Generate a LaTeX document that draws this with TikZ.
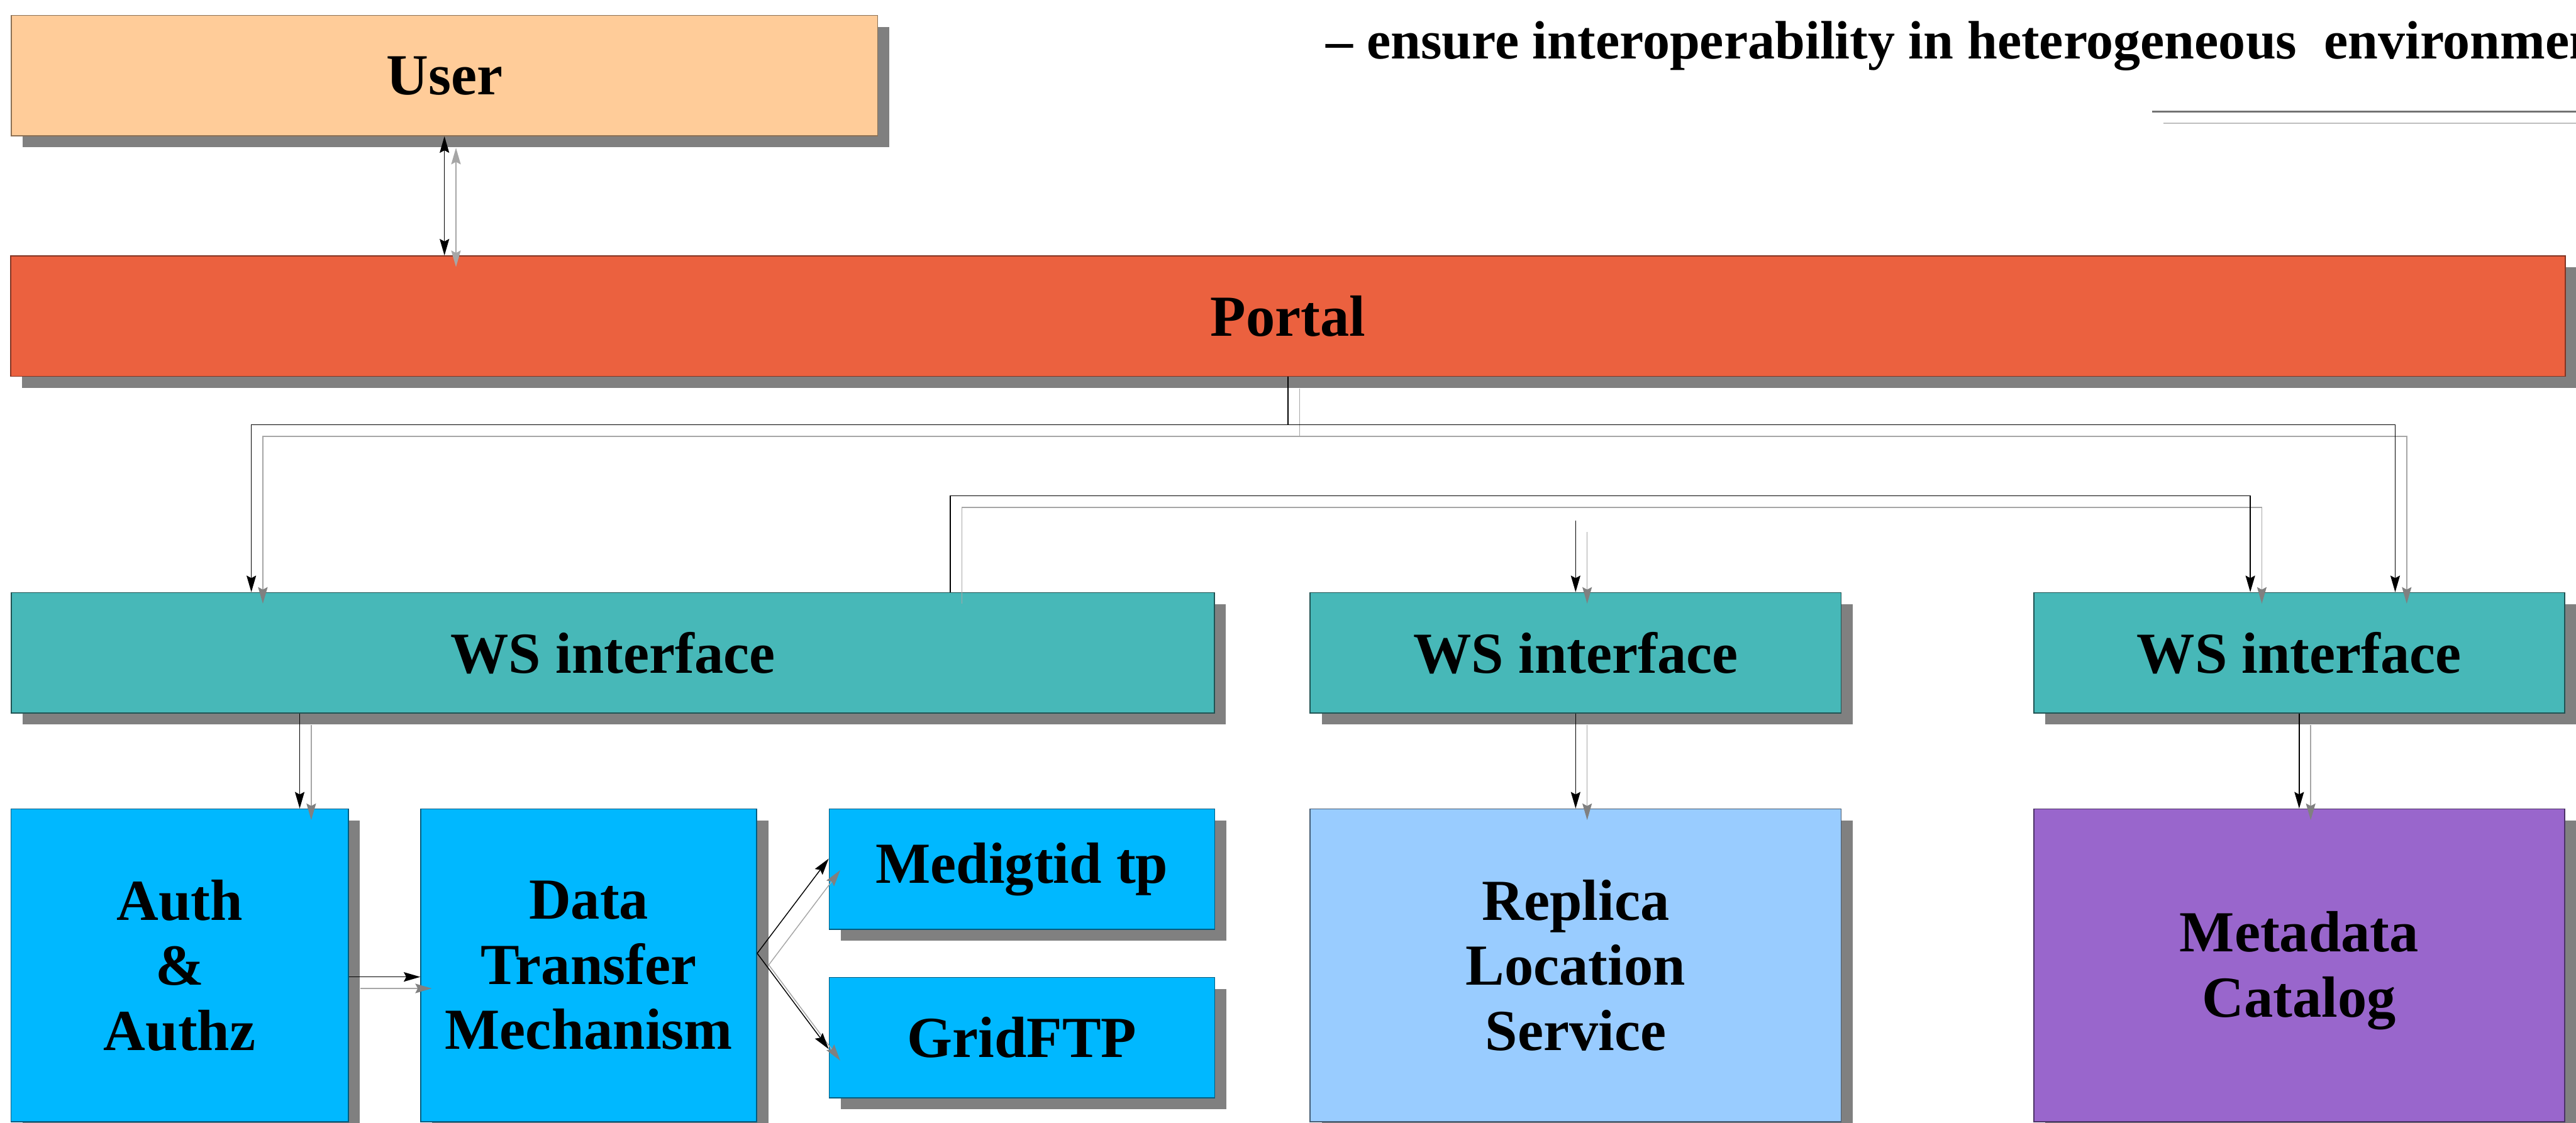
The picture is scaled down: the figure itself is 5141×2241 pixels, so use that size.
\documentclass[tikz,border=0pt]{standalone}
\usepackage{fontspec}
\setmainfont{Liberation Serif}
\usetikzlibrary{arrows.meta,shadows}
\definecolor{cuser}{HTML}{FFCC99}
\definecolor{cportal}{HTML}{EB613F}
\definecolor{cws}{HTML}{47B8B8}
\definecolor{cblue}{HTML}{00B8FF}
\definecolor{creplica}{HTML}{99CCFF}
\definecolor{cmeta}{HTML}{9966CC}
\newcommand\shconn[2]{\draw[conshadow,#1] #2; \draw[con,#1] #2;}
\begin{document}
\begin{tikzpicture}[x=0.01cm,y=-0.01cm,
  box/.style={draw=black!60, line width=0.02cm, inner sep=0pt, align=center,
    font=\fontsize{33}{37}\selectfont\bfseries,
    drop shadow={shadow xshift=0.23cm,shadow yshift=-0.23cm,fill=black!50,opacity=1}},
  con/.style={draw=black, line width=0.018cm, -{Stealth[length=0.33cm,width=0.19cm,inset=0.05cm]}},
  conshadow/.style={draw=black!35, line width=0.018cm, -{Stealth[length=0.33cm,width=0.19cm,inset=0.05cm,color=black!50]},
    transform canvas={shift={(0.23cm,-0.23cm)}}}]
\useasboundingbox (0,0) rectangle (5141,2241);
\clip (0,0) rectangle (5141,2241);
% top-right text and rule
\node[anchor=base west, inner sep=0pt, font=\fontsize{30.7}{36}\selectfont\bfseries] (note) at (2646,117)
  {– ensure interoperability in heterogeneous\ \ environments};
\coordinate (r1a) at (4295,223); \coordinate (r1b) at (5141,223);
\coordinate (r2a) at (4318,246); \coordinate (r2b) at (5141,246);
\draw[black!55, line width=0.03cm] (r1a) -- (r1b);
\draw[black!25, line width=0.03cm] (r2a) -- (r2b);
% boxes
\node[box, fill=cuser, draw=cuser!55!black, minimum width=17.28cm, minimum height=2.4cm] (user) at (887,151) {User};
\node[box, fill=cportal, draw=cportal!55!black, minimum width=50.95cm, minimum height=2.4cm] (portal) at (2570.5,631) {Portal};
\node[box, fill=cws, draw=cws!45!black, minimum width=24cm, minimum height=2.4cm] (ws1) at (1223,1303) {WS interface};
\node[box, fill=cws, draw=cws!45!black, minimum width=10.59cm, minimum height=2.4cm] (ws2) at (3144.5,1303) {WS interface};
\node[box, fill=cws, draw=cws!45!black, minimum width=10.59cm, minimum height=2.4cm] (ws3) at (4588.5,1303) {WS interface};
\node[box, fill=cblue, draw=cblue!50!black, minimum width=6.73cm, minimum height=6.24cm] (auth) at (358.5,1927) {Auth\\\&\\Authz};
\node[box, fill=cblue, draw=cblue!50!black, minimum width=6.70cm, minimum height=6.24cm] (data) at (1175,1927) {Data\\Transfer\\Mechanism};
\node[box, fill=cblue, draw=cblue!50!black, minimum width=7.69cm, minimum height=2.4cm] (medig) at (2039.5,1735) {Medigtid tp};
\node[box, fill=cblue, draw=cblue!50!black, minimum width=7.69cm, minimum height=2.4cm] (grid) at (2039.5,2071) {GridFTP};
\node[box, fill=creplica, draw=creplica!45!black, minimum width=10.59cm, minimum height=6.24cm] (replica) at (3144.5,1927) {Replica\\Location\\Service};
\node[box, fill=cmeta, draw=cmeta!50!black, minimum width=10.59cm, minimum height=6.24cm] (meta) at (4588.5,1927) {\rule{0pt}{29pt}Metadata\\Catalog};
\coordinate (ws2in) at (3144.5,1039);
% connectors (with shadows)
\shconn{{Stealth[length=0.33cm,width=0.19cm,inset=0.05cm]}-{Stealth[length=0.33cm,width=0.19cm,inset=0.05cm]}}{(user.south) -- (user.south |- portal.north)}
\shconn{}{(portal.south) -- ++(0,96) -| ([xshift=-7.21cm]ws1.north)}
\shconn{}{(portal.south) -- ++(0,96) -| ([xshift=1.915cm]ws3.north)}
\shconn{}{([xshift=6.73cm]ws1.north) -- ++(0,-192) -| ([xshift=-0.975cm]ws3.north)}
\shconn{}{(ws2in) -- (ws2.north)}
\shconn{}{([xshift=2.395cm]auth.north |- ws1.south) -- ([xshift=2.395cm]auth.north)}
\shconn{}{(ws2.south) -- (replica.north)}
\shconn{}{(ws3.south) -- (meta.north)}
\shconn{}{([yshift=-0.23cm]auth.east) -- ([yshift=-0.23cm]auth.east -| data.west)}
\shconn{}{([yshift=0.24cm]data.east) -- ([yshift=0.21cm]medig.west)}
\shconn{}{([yshift=0.24cm]data.east) -- ([yshift=-0.23cm]grid.west)}
\end{tikzpicture}
\end{document}
